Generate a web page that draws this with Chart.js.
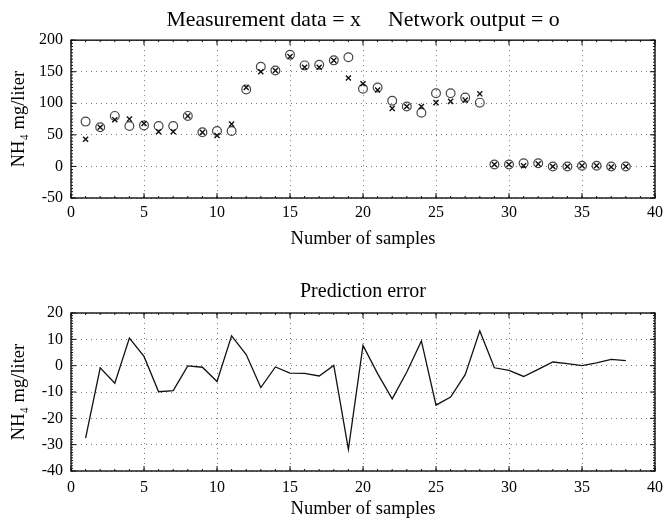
<!DOCTYPE html>
<html lang="en">
<head>
<meta charset="UTF-8">
<title>NH4 network prediction</title>
<script src="https://cdn.jsdelivr.net/npm/chart.js"></script>
<style>
  body { margin: 0; background: #fff; }
  canvas { position: absolute; left: 0; }
  #top { top: 0; }
  #bottom { top: 260px; }
</style>
</head>
<body>
<canvas id="top" width="665" height="260"></canvas>
<canvas id="bottom" width="665" height="261"></canvas>

<script>
  const samples = [1, 2, 3, 4, 5, 6, 7, 8, 9, 10, 11, 12, 13, 14, 15, 16, 17, 18, 19,
    20, 21, 22, 23, 24, 25, 26, 27, 28, 29, 30, 31, 32, 33, 34, 35, 36, 37, 38];
  const measured = [43, 62, 74, 75, 68, 55, 55, 80, 54, 49, 67, 125, 150, 152, 174, 157, 157, 168, 140,
    131, 121, 92, 95, 95, 101, 103, 105, 115, 3, 3, 1, 4, 0, 0, 1, 1, -1, 0];
  const network = [71, 62, 80, 64, 65, 64, 64, 80, 54, 56, 56, 122, 158, 152, 177, 160, 161, 168, 173,
    123, 125, 104, 95, 85, 116, 116, 109, 101, 3, 3, 5, 5, 0, 0, 1, 1, 0, 0];
  const predError = [-27.5, -0.8, -6.7, 10.5, 3.5, -9.9, -9.5, -0.1, -0.6, -6, 11.3, 4.2, -8.3, -0.5, -2.8, -2.9, -3.9, 0.1, -31.8,
    7.7, -3, -12.6, -2.4, 9.4, -15, -11.9, -3.4, 13.2, -0.8, -1.8, -4.1, -1.4, 1.4, 0.8, 0, 1.1, 2.4, 1.9];

  const xTicks = [0, 5, 10, 15, 20, 25, 30, 35, 40];
  const yTicksTop = [-50, 0, 50, 100, 150, 200];
  const yTicksBottom = [-40, -30, -20, -10, 0, 10, 20];

  const serif = "'Liberation Serif', 'DejaVu Serif', serif";

  // frame round the plot, with inward major and minor ticks like the original
  const frameTicks = {
    id: 'frameTicks',
    afterDraw(chart, args, opts) {
      const { ctx, chartArea: a, scales: { x, y } } = chart;
      ctx.save();
      ctx.strokeStyle = '#111';
      ctx.lineWidth = 1;
      ctx.beginPath();
      for (let v = x.min; v <= x.max; v += opts.xMinor) {
        const px = x.getPixelForValue(v);
        ctx.moveTo(px, a.bottom); ctx.lineTo(px, a.bottom - 2);
        ctx.moveTo(px, a.top); ctx.lineTo(px, a.top + 2);
      }
      for (let v = y.min; v <= y.max; v += opts.yMinor) {
        const py = y.getPixelForValue(v);
        ctx.moveTo(a.left, py); ctx.lineTo(a.left + 2, py);
        ctx.moveTo(a.right, py); ctx.lineTo(a.right - 2, py);
      }
      x.ticks.forEach(t => {
        const px = x.getPixelForValue(t.value);
        ctx.moveTo(px, a.bottom); ctx.lineTo(px, a.bottom - 5);
        ctx.moveTo(px, a.top); ctx.lineTo(px, a.top + 5);
      });
      y.ticks.forEach(t => {
        const py = y.getPixelForValue(t.value);
        ctx.moveTo(a.left, py); ctx.lineTo(a.left + 5, py);
        ctx.moveTo(a.right, py); ctx.lineTo(a.right - 5, py);
      });
      ctx.stroke();
      ctx.lineWidth = 1.4;
      ctx.strokeRect(a.left, a.top, a.right - a.left, a.bottom - a.top);
      ctx.restore();
    }
  };

  function axes(yTicks, xHeight, tickPad, titlePad) {
    return {
      x: {
        type: 'linear', min: 0, max: 40,
        afterBuildTicks: s => { s.ticks = xTicks.map(v => ({ value: v })); },
        afterFit: s => { s.height = xHeight; s.paddingLeft = 0; s.paddingRight = 0; },
        grid: { color: '#777', lineWidth: 1, drawTicks: false },
        border: { display: false, dash: [1, 4] },
        ticks: { color: '#000', padding: tickPad, font: { family: serif, size: 16 } },
        title: {
          display: true, text: 'Number of samples', color: '#000',
          font: { family: serif, size: 18.5 }, padding: { top: 0, bottom: titlePad }
        }
      },
      y: {
        type: 'linear', min: yTicks[0], max: yTicks[yTicks.length - 1],
        afterBuildTicks: s => { s.ticks = yTicks.map(v => ({ value: v })); },
        afterFit: s => { s.width = 71; },
        grid: { color: '#777', lineWidth: 1, drawTicks: false },
        border: { display: false, dash: [1, 4] },
        ticks: { color: '#000', padding: 8, font: { family: serif, size: 16 } },
        title: {
          display: true, text: 'NH₄ mg/liter', color: '#000',
          font: { family: serif, size: 18.5 }, padding: { top: 8, bottom: 0 }
        }
      }
    };
  }

  new Chart(document.getElementById('top'), {
    type: 'scatter',
    data: {
      datasets: [{
        label: 'Measurement data',
        data: samples.map((s, i) => ({ x: s, y: measured[i] })),
        pointStyle: 'crossRot',
        pointRadius: 3.6,
        borderColor: '#111',
        borderWidth: 1.4
      }, {
        label: 'Network output',
        data: samples.map((s, i) => ({ x: s, y: network[i] })),
        pointStyle: 'circle',
        pointRadius: 4.4,
        backgroundColor: 'rgba(0,0,0,0)',
        borderColor: '#444',
        borderWidth: 1.2
      }]
    },
    options: {
      responsive: false,
      animation: false,
      layout: { padding: { left: 0, right: 10, top: 0, bottom: 0 } },
      scales: axes(yTicksTop, 62, 5, 10),
      plugins: {
        legend: { display: false },
        tooltip: { enabled: false },
        title: {
          display: true, fullSize: false,
          text: 'Measurement data = x     Network output = o', color: '#000',
          font: { family: serif, size: 21.8, weight: 'normal' }, padding: { top: 7, bottom: 7 }
        },
        frameTicks: { xMinor: 1, yMinor: 5 }
      }
    },
    plugins: [frameTicks]
  });

  new Chart(document.getElementById('bottom'), {
    type: 'line',
    data: {
      datasets: [{
        label: 'Prediction error',
        data: samples.map((s, i) => ({ x: s, y: predError[i] })),
        borderColor: '#111',
        borderWidth: 1.3,
        pointRadius: 0,
        tension: 0,
        fill: false
      }]
    },
    options: {
      responsive: false,
      animation: false,
      layout: { padding: { left: 0, right: 10, top: 0, bottom: 0 } },
      scales: axes(yTicksBottom, 50, 7.5, 0.5),
      plugins: {
        legend: { display: false },
        tooltip: { enabled: false },
        title: {
          display: true, fullSize: false,
          text: 'Prediction error', color: '#000',
          font: { family: serif, size: 20, weight: 'normal' }, padding: { top: 20, bottom: 9 }
        },
        frameTicks: { xMinor: 1, yMinor: 1 }
      }
    },
    plugins: [frameTicks]
  });
</script>
</body>
</html>
